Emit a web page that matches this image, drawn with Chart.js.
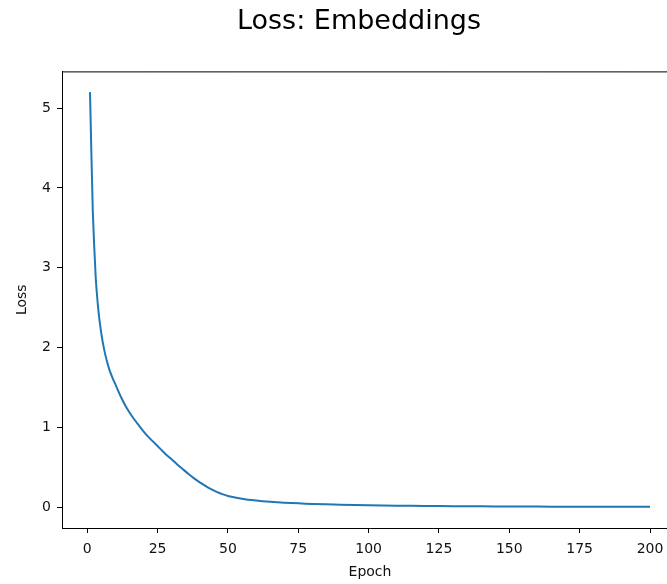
<!DOCTYPE html>
<html>
<head>
<meta charset="utf-8">
<script src="https://cdn.jsdelivr.net/npm/chart.js@4"></script>
<style>
  html, body { margin: 0; padding: 0; background: #fff; overflow: hidden; }
  #wrap { width: 718px; height: 584px; }
</style>
</head>
<body>
<div id="wrap"><canvas id="myChart" width="718" height="584"></canvas></div>
<script>
// values
const epochs = [1, 2, 3, 4, 5, 6, 7, 8, 9, 10, 12, 14, 16, 18, 20, 22, 24, 26, 28, 30,
    32, 34, 36, 38, 40, 42, 44, 46, 48, 50, 55, 60, 65, 70, 75, 80, 90, 100,
    110, 120, 130, 140, 150, 160, 170, 180, 190, 200];
const loss = [5.20, 3.70, 2.90, 2.46, 2.18, 1.98, 1.83, 1.71, 1.62, 1.54, 1.38, 1.245, 1.135, 1.04,
    0.95, 0.87, 0.80, 0.73, 0.66, 0.60, 0.535, 0.475, 0.415, 0.36, 0.31, 0.265, 0.225, 0.19, 0.162,
    0.14, 0.105, 0.082, 0.066, 0.055, 0.047, 0.04, 0.03, 0.024, 0.018, 0.014, 0.011, 0.009,
    0.007, 0.006, 0.005, 0.004, 0.004, 0.003];
const xTicks = [0, 25, 50, 75, 100, 125, 150, 175, 200];
const yTicks = [0, 1, 2, 3, 4, 5];

const points = epochs.map((e, i) => ({ x: e, y: loss[i] }));

// matplotlib style box: draw the top/right spines
const boxPlugin = {
    id: 'box',
    afterDraw(chart) {
        const a = chart.chartArea;
        const c = chart.ctx;
        c.save();
        c.strokeStyle = '#000';
        c.lineWidth = 1;
        c.beginPath();
        c.moveTo(a.left, a.top + 0.5);
        c.lineTo(a.right, a.top + 0.5);
        c.moveTo(a.right - 0.5, a.top);
        c.lineTo(a.right - 0.5, a.bottom);
        c.stroke();
        c.restore();
    }
};

const tickFont = { family: 'DejaVu Sans', size: 14 };

const config = {
    type: 'line',
    data: {
        datasets: [{
            label: 'Loss',
            data: points,
            borderColor: '#1f77b4',
            borderWidth: 2,
            pointRadius: 0,
            fill: false,
            tension: 0.2
        }]
    },
    options: {
        responsive: false,
        animation: false,
        devicePixelRatio: 1,
        layout: { padding: 0 },
        plugins: {
            legend: { display: false },
            tooltip: { enabled: false },
            title: {
                display: true,
                text: 'Loss: Embeddings',
                color: '#000',
                font: { family: 'DejaVu Sans', size: 27, weight: 'normal' },
                padding: { top: 6, bottom: 33 }
            }
        },
        scales: {
            x: {
                type: 'linear',
                min: -8.95,
                max: 209.95,
                afterBuildTicks: (s) => { s.ticks = xTicks.map(v => ({ value: v })); },
                afterFit: (s) => { s.height = 56; },
                grid: { drawOnChartArea: false, drawTicks: true, tickLength: 5, color: '#000' },
                border: { display: true, color: '#000', width: 1 },
                ticks: { color: '#111', font: tickFont, padding: 8, maxRotation: 0 },
                title: {
                    display: true, text: 'Epoch', color: '#111',
                    font: { family: 'DejaVu Sans', size: 14 }, padding: { top: 0, bottom: 3 }
                }
            },
            y: {
                type: 'linear',
                min: -0.262,
                max: 5.46,
                afterBuildTicks: (s) => { s.ticks = yTicks.map(v => ({ value: v })); },
                afterFit: (s) => { s.width = 62; },
                grid: { drawOnChartArea: false, drawTicks: true, tickLength: 5, color: '#000' },
                border: { display: true, color: '#000', width: 1 },
                ticks: { color: '#111', font: tickFont, padding: 6 },
                title: {
                    display: true, text: 'Loss', color: '#111',
                    font: { family: 'DejaVu Sans', size: 14 }, padding: { top: 14, bottom: 0 }
                }
            },
            // empty right-hand strip so the plot runs past the page edge
            yRight: {
                type: 'linear',
                position: 'right',
                display: true,
                afterFit: (s) => { s.width = 40; },
                grid: { display: false },
                border: { display: false },
                ticks: { display: false }
            }
        }
    },
    plugins: [boxPlugin]
};

var ctx = document.getElementById('myChart').getContext('2d');
var myChart = new Chart(ctx, config);
</script>
</body>
</html>
